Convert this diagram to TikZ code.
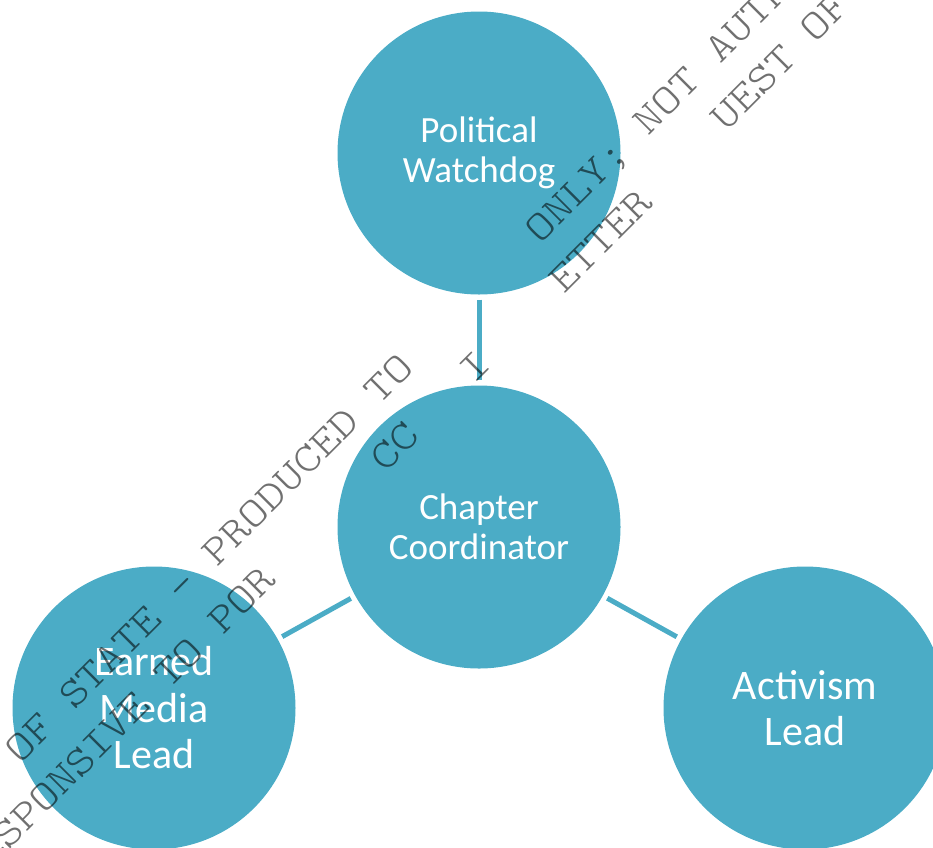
\documentclass[tikz,border=0pt]{standalone}
\usepackage{fontspec}
\setmainfont{Carlito}
\newfontfamily\wmfont{lmmonolt10-regular}[Extension=.otf, FakeStretch=1.18]
\definecolor{aqua}{HTML}{4BACC6}
\definecolor{wmgray}{HTML}{707070}
\tikzset{
  role/.style={circle, fill=aqua, minimum size=283pt, inner sep=0pt, text=white, align=center},
  smalltxt/.style={font=\fontsize{37}{40}\selectfont},
  bigtxt/.style={font=\fontsize{42}{46.5}\selectfont},
  link/.style={draw=aqua, line width=5pt, shorten <=5pt, shorten >=5pt},
  wm/.style={rotate=45, anchor=base west, inner sep=0pt, text=wmgray, font=\wmfont\fontsize{41}{41}\selectfont}
}
\newcommand{\wmA}[1]{({20+17.95*#1},{765-17.95*#1})}
\newcommand{\wmB}[1]{({-27.9+17.95*#1},{886.9-17.95*#1})}
\begin{document}
\begin{tikzpicture}[x=1pt,y=-1pt]
\useasboundingbox (0,0) rectangle (933,847);
\clip (0,0) rectangle (933,847);
\node[role,smalltxt] (pw) at (479,153) {Political\\Watchdog};
\node[role,smalltxt] (cc) at (479,527) {Chapter\\Coordinator};
\node[role,bigtxt] (em) at (154,708) {Earned\\Media\\Lead};
\node[role,bigtxt] (al) at (805,708) {Activism\\Lead};
\draw[link] (pw) -- (cc);
\draw[link] (cc) -- (em);
\draw[link] (cc) -- (al);
\begin{scope}[blend mode=multiply]
\node[wm] (w1a) at \wmA{0} {OF STATE – PRODUCED TO};
\node[wm] (w1b) at \wmA{29} {ONLY; NOT AUTH};
\node[wm] (w2a) at \wmB{0} {RESPONSIVE TO POR};
\node[wm] (w2b) at \wmB{23} {CC};
\node[wm] (w2c) at \wmB{28} {I};
\node[wm] (w2d) at \wmB{33} {ETTER};
\node[wm] (w2e) at \wmB{42} {UEST OF};
\end{scope}
\end{tikzpicture}
\end{document}
